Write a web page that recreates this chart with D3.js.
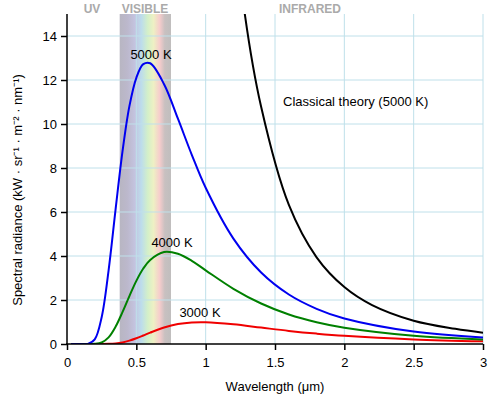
<!DOCTYPE html>
<html><head><meta charset="utf-8">
<script src="https://cdn.jsdelivr.net/npm/d3@7"></script>
<style>body{margin:0;background:#fff}text{font-family:"Liberation Sans",Arial,sans-serif}</style>
</head><body><svg></svg>
<script>
let width = 500, height = 400;
let padLeft = 67, padRight = 483, padTop = 14, padBottom = 344;

// wavelength (µm) and spectral radiance (kW·sr⁻¹·m⁻²·nm⁻¹)
let wl = [0.03, 0.1, 0.15, 0.2, 0.25, 0.3, 0.35, 0.4, 0.45, 0.5, 0.55, 0.6, 0.7, 0.8, 0.9, 1.0, 1.2, 1.4, 1.6, 1.8, 2.0, 2.5, 3.0];
let t5000 = [0, 0, 0.003, 0.21, 1.22, 3.35, 6.10, 8.74, 10.81, 12.10, 12.72, 12.76, 11.81, 10.24, 8.60, 7.10, 4.79, 3.25, 2.25, 1.60, 1.16, 0.565, 0.30];
let t4000 = [0, 0, 0, 0.006, 0.069, 0.30, 0.78, 1.45, 2.18, 2.87, 3.43, 3.82, 4.18, 4.10, 3.78, 3.35, 2.51, 1.84, 1.34, 0.99, 0.74, 0.379, 0.21];
let t3000 = [0, 0, 0, 0, 0, 0.006, 0.026, 0.072, 0.152, 0.26, 0.386, 0.517, 0.75, 0.907, 0.98, 0.99, 0.896, 0.745, 0.596, 0.472, 0.372, 0.21, 0.124];
let wlClassic = [1.22, 1.28, 1.4, 1.6, 1.8, 2.0, 2.2, 2.5, 2.8, 3.0];
let classic = [18.7, 15.1, 10.78, 6.32, 3.94, 2.59, 1.77, 1.06, 0.69, 0.51];
let xTicks = [0, 0.5, 1, 1.5, 2, 2.5, 3];
let yTicks = [0, 2, 4, 6, 8, 10, 12, 14];

let svg = d3.select('svg').attr('width', width).attr('height', height);
let x = d3.scaleLinear().domain([0, 3]).range([padLeft, padRight]);
let y = d3.scaleLinear().domain([0, 14]).range([padBottom, 36]);

let defs = svg.append('defs');
let grad = defs.append('linearGradient').attr('id', 'rainbow');
[[0, '#b8b6c2'], [0.15, '#bcb8cc'], [0.3, '#c4c4e0'], [0.42, '#bcdcec'], [0.55, '#d4f0c8'], [0.66, '#eef0c4'], [0.78, '#f6cccc'], [0.88, '#c8c0c0'], [1, '#c0bebe']]
    .forEach(s => grad.append('stop').attr('offset', s[0]).attr('stop-color', s[1]));
defs.append('clipPath').attr('id', 'plot').append('rect')
    .attr('x', padLeft).attr('y', padTop).attr('width', padRight - padLeft).attr('height', padBottom - padTop);

// visible band
svg.append('rect').attr('x', x(0.38)).attr('y', padTop).attr('width', x(0.75) - x(0.38))
    .attr('height', padBottom - padTop).attr('fill', 'url(#rainbow)');

// grid
svg.append('g').selectAll('line').data(xTicks.slice(1)).join('line')
    .attr('x1', d => x(d)).attr('x2', d => x(d)).attr('y1', padTop).attr('y2', padBottom)
    .attr('stroke', '#bfe0ea').attr('stroke-width', 1);
svg.append('g').selectAll('line').data(yTicks.slice(1)).join('line')
    .attr('x1', padLeft).attr('x2', padRight).attr('y1', d => y(d)).attr('y2', d => y(d))
    .attr('stroke', '#bfe0ea').attr('stroke-width', 1);

// curves
let line = (xs) => d3.line().x((d, i) => x(xs[i])).y(d => y(d)).curve(d3.curveCatmullRom);
let g = svg.append('g').attr('clip-path', 'url(#plot)').attr('fill', 'none').attr('stroke-width', 2);
g.append('path').attr('d', line(wl)(t3000)).attr('stroke', '#f00000');
g.append('path').attr('d', line(wl)(t4000)).attr('stroke', '#008000');
g.append('path').attr('d', line(wl)(t5000)).attr('stroke', '#0000f0');
g.append('path').attr('d', line(wlClassic)(classic)).attr('stroke', '#000');

// axes
let xAxis = d3.axisBottom(x).tickValues(xTicks).tickSize(6).tickPadding(8).tickFormat(d3.format('~g'));
let yAxis = d3.axisLeft(y).tickValues(yTicks).tickSize(6).tickPadding(4);
let xa = svg.append('g').attr('transform', 'translate(0,' + padBottom + ')').call(xAxis);
let ya = svg.append('g').attr('transform', 'translate(' + padLeft + ',0)').call(yAxis);
[xa, ya].forEach(a => {
    a.selectAll('text').attr('font-size', 13).attr('fill', '#000');
    a.selectAll('line').attr('stroke', '#000').attr('stroke-width', 1.5);
    a.select('.domain').remove();
});
svg.append('line').attr('x1', padLeft).attr('x2', padLeft).attr('y1', padTop).attr('y2', padBottom + 1).attr('stroke', '#000').attr('stroke-width', 1.5);
svg.append('line').attr('x1', padLeft - 1).attr('x2', padRight).attr('y1', padBottom).attr('y2', padBottom).attr('stroke', '#000').attr('stroke-width', 1.5);

// labels
let txt = (s, px, py, opt = {}) => svg.append('text').attr('x', px).attr('y', py).text(s)
    .attr('font-size', opt.size || 13).attr('fill', opt.fill || '#000')
    .attr('font-weight', opt.weight || 'normal').attr('text-anchor', opt.anchor || 'middle');
txt('UV', 92, 13, {fill: '#aaa', weight: 'bold', size: 12});
txt('VISIBLE', 145, 13, {fill: '#aaa', weight: 'bold', size: 12});
txt('INFRARED', 310, 13, {fill: '#aaa', weight: 'bold', size: 12});
txt('5000 K', 151, 59);
txt('4000 K', 172, 247);
txt('3000 K', 200, 317);
txt('Classical theory (5000 K)', 283, 106, {anchor: 'start'});
txt('Wavelength (μm)', 275, 391);
svg.append('text').attr('transform', 'translate(22,190) rotate(-90)').attr('text-anchor', 'middle')
    .attr('font-size', 13).text('Spectral radiance (kW · sr⁻¹ · m⁻² · nm⁻¹)');
</script></body></html>
